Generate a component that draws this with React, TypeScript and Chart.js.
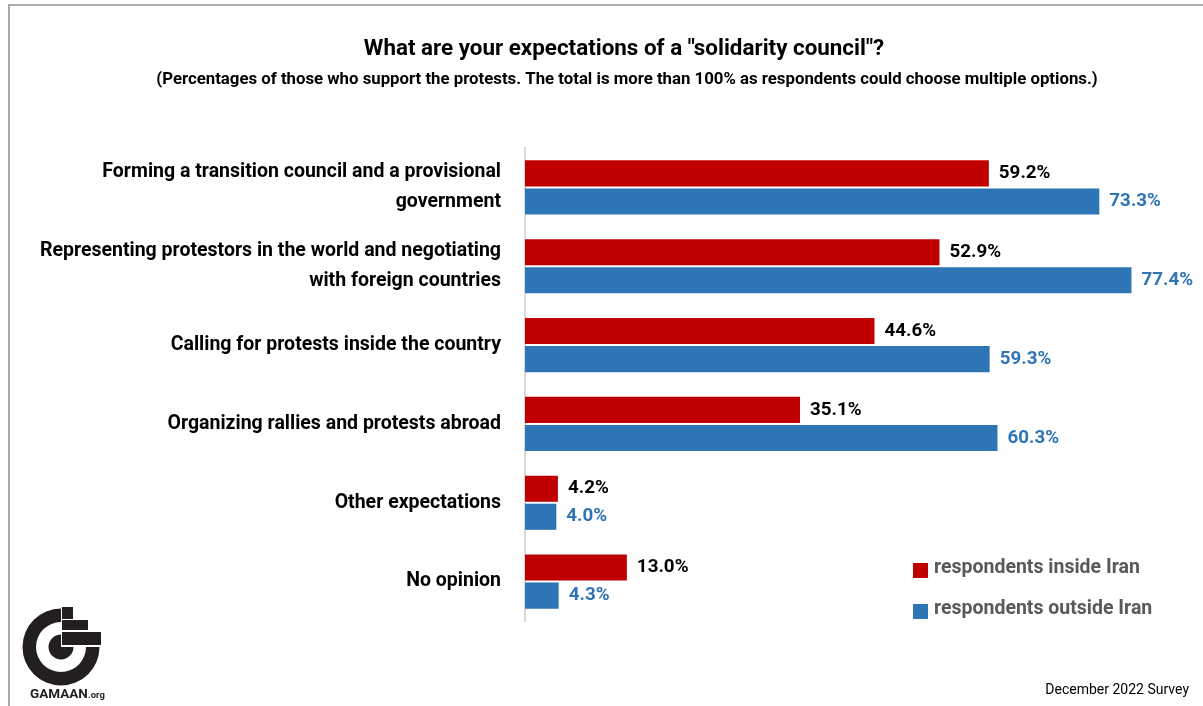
import React, { useEffect, useRef } from "react";
import { Chart, registerables } from "chart.js";

Chart.register(...registerables);

const categories: string[][] = [
  ["Forming a transition council and a provisional", "government"],
  ["Representing protestors in the world and negotiating", "with foreign countries"],
  ["Calling for protests inside the country"],
  ["Organizing rallies and protests abroad"],
  ["Other expectations"],
  ["No opinion"],
];
const insideIran = [59.2, 52.9, 44.6, 35.1, 4.2, 13.0];
const outsideIran = [73.3, 77.4, 59.3, 60.3, 4.0, 4.3];
const seriesNames = ["respondents inside Iran", "respondents outside Iran"];
const seriesColors = ["#C00000", "#2E75B6"];
const labelColors = ["#000000", "#2E75B6"];
const titleText = 'What are your expectations of a "solidarity council"?';
const subtitleText =
  "(Percentages of those who support the protests. The total is more than 100% as respondents could choose multiple options.)";
const footnote = "December 2022 Survey";

const FONT = "Roboto, 'Liberation Sans', Arial, sans-serif";

const decorPlugin = {
  id: "decor",
  afterDraw(chart: any) {
    const ctx = chart.ctx;
    ctx.save();
    // frame
    ctx.fillStyle = "#ababab";
    ctx.fillRect(9, 4, 1194, 2);
    ctx.fillRect(8, 4, 2, 702);

    // titles
    ctx.fillStyle = "#000";
    ctx.textAlign = "center";
    ctx.textBaseline = "middle";
    ctx.font = `bold 22.4px ${FONT}`;
    ctx.fillText(titleText, 624, 49);
    ctx.font = `bold 16.8px ${FONT}`;
    ctx.fillText(subtitleText, 627, 80);

    // data labels
    chart.data.datasets.forEach((ds: any, di: number) => {
      const meta = chart.getDatasetMeta(di);
      ctx.font = `bold 18.8px ${FONT}`;
      ctx.fillStyle = labelColors[di];
      ctx.textAlign = "left";
      ctx.textBaseline = "middle";
      meta.data.forEach((bar: any, i: number) => {
        ctx.fillText(ds.data[i].toFixed(1) + "%", bar.x + 10, bar.y);
      });
    });

    // legend
    const legY = [570, 611];
    seriesNames.forEach((name, i) => {
      ctx.fillStyle = seriesColors[i];
      ctx.fillRect(913, legY[i] - 7, 15, 15);
      ctx.fillStyle = "#595959";
      ctx.font = `bold 19.5px ${FONT}`;
      ctx.textAlign = "left";
      ctx.textBaseline = "middle";
      ctx.fillText(name, 934, legY[i] - 2);
    });

    // footnote
    ctx.fillStyle = "#000";
    ctx.font = `14px ${FONT}`;
    ctx.textAlign = "right";
    ctx.fillText(footnote, 1189, 690);

    // logo
    const cx = 61, cy = 647;
    ctx.fillStyle = "#231f20";
    ctx.beginPath();
    ctx.arc(cx, cy, 38.5, 0, Math.PI * 1.5, false);
    ctx.arc(cx, cy, 25, Math.PI * 1.5, 0, true);
    ctx.closePath();
    ctx.fill();
    ctx.beginPath();
    ctx.moveTo(cx, cy);
    ctx.arc(cx, cy, 12.5, 0, Math.PI * 1.5, false);
    ctx.closePath();
    ctx.fill();
    ctx.fillRect(cx + 1, 607, 11, 12);
    ctx.fillRect(cx + 1, 620, 26, 10);
    ctx.fillRect(cx + 1, 632, 39, 13);
    ctx.font = `bold 13.5px ${FONT}`;
    ctx.textAlign = "left";
    ctx.textBaseline = "alphabetic";
    ctx.fillText("GAMAAN", 30, 698);
    const w = ctx.measureText("GAMAAN").width;
    ctx.font = `bold 9.5px ${FONT}`;
    ctx.fillText(".org", 30 + w, 698);
    ctx.restore();
  },
};

export default function App() {
  const ref = useRef<HTMLCanvasElement>(null);
  useEffect(() => {
    if (!ref.current) return;
    const chart = new Chart(ref.current, {
      type: "bar",
      data: {
        labels: categories,
        datasets: [
          {
            label: seriesNames[0],
            data: insideIran,
            backgroundColor: seriesColors[0],
            categoryPercentage: 0.712,
            barPercentage: 0.9286,
          },
          {
            label: seriesNames[1],
            data: outsideIran,
            backgroundColor: seriesColors[1],
            categoryPercentage: 0.712,
            barPercentage: 0.9286,
          },
        ],
      },
      options: {
        indexAxis: "y",
        animation: false,
        responsive: false,
        layout: { padding: { left: 0, right: 12, top: 148, bottom: 85 } },
        plugins: {
          legend: { display: false },
          title: { display: false },
          tooltip: { enabled: false },
        },
        scales: {
          x: { display: false, min: 0, max: 85 },
          y: {
            grid: { display: false },
            border: { display: true, color: "#d9d9d9", width: 2 },
            afterFit: (scale: any) => {
              scale.width = 525;
            },
            ticks: {
              padding: 16,
              color: "#000",
              font: { family: FONT, size: 19.5, weight: "bold", lineHeight: 1.54 },
            },
          },
        },
      },
      plugins: [decorPlugin],
    });
    return () => chart.destroy();
  }, []);
  return (
    <div style={{ position: "absolute", left: 0, top: 0, width: 1203, height: 706, background: "#fff" }}>
      <canvas ref={ref} width={1203} height={706} style={{ width: 1203, height: 706 }} />
    </div>
  );
}
